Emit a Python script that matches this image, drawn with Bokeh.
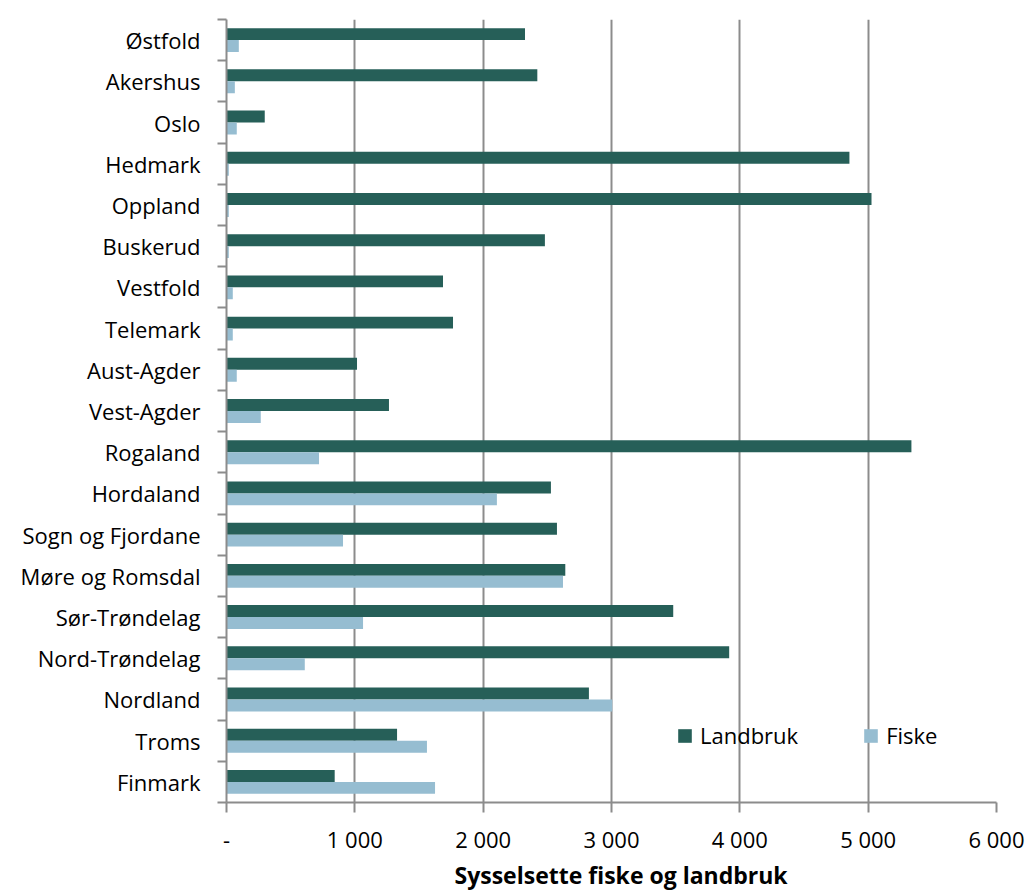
from bokeh.plotting import figure
from bokeh.models import Range1d, FixedTicker, Legend, LegendItem, Title
from bokeh.embed import file_html
from bokeh.resources import INLINE

categories = ["Østfold", "Akershus", "Oslo", "Hedmark", "Oppland", "Buskerud",
              "Vestfold", "Telemark", "Aust-Agder", "Vest-Agder", "Rogaland",
              "Hordaland", "Sogn og Fjordane", "Møre og Romsdal", "Sør-Trøndelag",
              "Nord-Trøndelag", "Nordland", "Troms", "Finmark"]
landbruk = [2326, 2422, 298, 4854, 5026, 2481, 1687, 1765, 1017, 1266, 5337,
            2528, 2575, 2640, 3481, 3917, 2824, 1329, 843]
fiske = [96, 65, 80, 18, 18, 18, 49, 49, 80, 267, 721,
         2107, 908, 2622, 1064, 610, 3006, 1562, 1625]
x_ticks = [0, 1000, 2000, 3000, 4000, 5000, 6000]
x_tick_labels = ["-", "1 000", "2 000", "3 000", "4 000", "5 000", "6 000"]
series_names = ["Landbruk", "Fiske"]
colors = ["#265f58", "#96bdd1"]
x_title = "Sysselsette fiske og landbruk"

FONT = "Open Sans"
GRID = "#8c8c8c"

n = len(categories)
centers = [i + 0.5 for i in range(n)]
bar_h = 0.29

p = figure(width=1029, height=891, output_backend="svg", toolbar_location=None,
           x_range=Range1d(0, 6000), y_range=Range1d(n, 0),
           min_border_left=226, min_border_right=33, min_border_top=19,
           min_border_bottom=89)
p.outline_line_color = None
p.background_fill_color = "white"
p.border_fill_color = "white"

r1 = p.hbar(y=[c - bar_h / 2 for c in centers], right=landbruk, left=0,
            height=bar_h, fill_color=colors[0], line_color=None)
r2 = p.hbar(y=[c + bar_h / 2 for c in centers], right=fiske, left=0,
            height=bar_h, fill_color=colors[1], line_color=None)

# x axis
p.xaxis.ticker = FixedTicker(ticks=x_ticks)
p.xaxis.major_label_overrides = {t: l for t, l in zip(x_ticks, x_tick_labels)}
p.xaxis.major_tick_out = 10
p.xaxis.major_tick_in = 0
p.xaxis.minor_tick_out = 0
p.xaxis.minor_tick_in = 0
p.xaxis.axis_line_color = GRID
p.xaxis.axis_line_width = 2
p.xaxis.major_tick_line_color = GRID
p.xaxis.major_tick_line_width = 2
p.xaxis.major_label_text_font = FONT
p.xaxis.major_label_text_font_size = "22px"
p.xaxis.major_label_text_color = "black"
p.xaxis.major_label_standoff = 11

# y axis: labels at centers, ticks at boundaries
p.yaxis.ticker = FixedTicker(ticks=centers, minor_ticks=list(range(n + 1)))
p.yaxis.major_label_overrides = {c: name for c, name in zip(centers, categories)}
p.yaxis.major_tick_out = 0
p.yaxis.major_tick_in = 0
p.yaxis.minor_tick_out = 9
p.yaxis.minor_tick_in = 0
p.yaxis.minor_tick_line_color = GRID
p.yaxis.minor_tick_line_width = 2
p.yaxis.axis_line_color = GRID
p.yaxis.axis_line_width = 2
p.yaxis.major_label_text_font = FONT
p.yaxis.major_label_text_font_size = "22px"
p.yaxis.major_label_text_color = "black"
p.yaxis.major_label_standoff = 17

p.xgrid.ticker = FixedTicker(ticks=x_ticks[1:])
p.xgrid.grid_line_color = GRID
p.xgrid.grid_line_width = 2
p.ygrid.grid_line_color = None

legend = Legend(items=[LegendItem(label=series_names[0], renderers=[r1]),
                       LegendItem(label=series_names[1], renderers=[r2])],
                orientation="horizontal", location=(450, 52),
                border_line_color=None, background_fill_alpha=0,
                glyph_width=17, glyph_height=17, label_standoff=7, spacing=64,
                padding=0, margin=0,
                label_text_font=FONT, label_text_font_size="22px",
                label_text_color="black")
p.add_layout(legend, "center")

title = Title(text=x_title, align="left", offset=228, standoff=0,
              text_font=FONT, text_font_style="bold",
              text_font_size="23px", text_color="black")
p.add_layout(title, "below")

open("out.html", "w").write(file_html(p, INLINE))
